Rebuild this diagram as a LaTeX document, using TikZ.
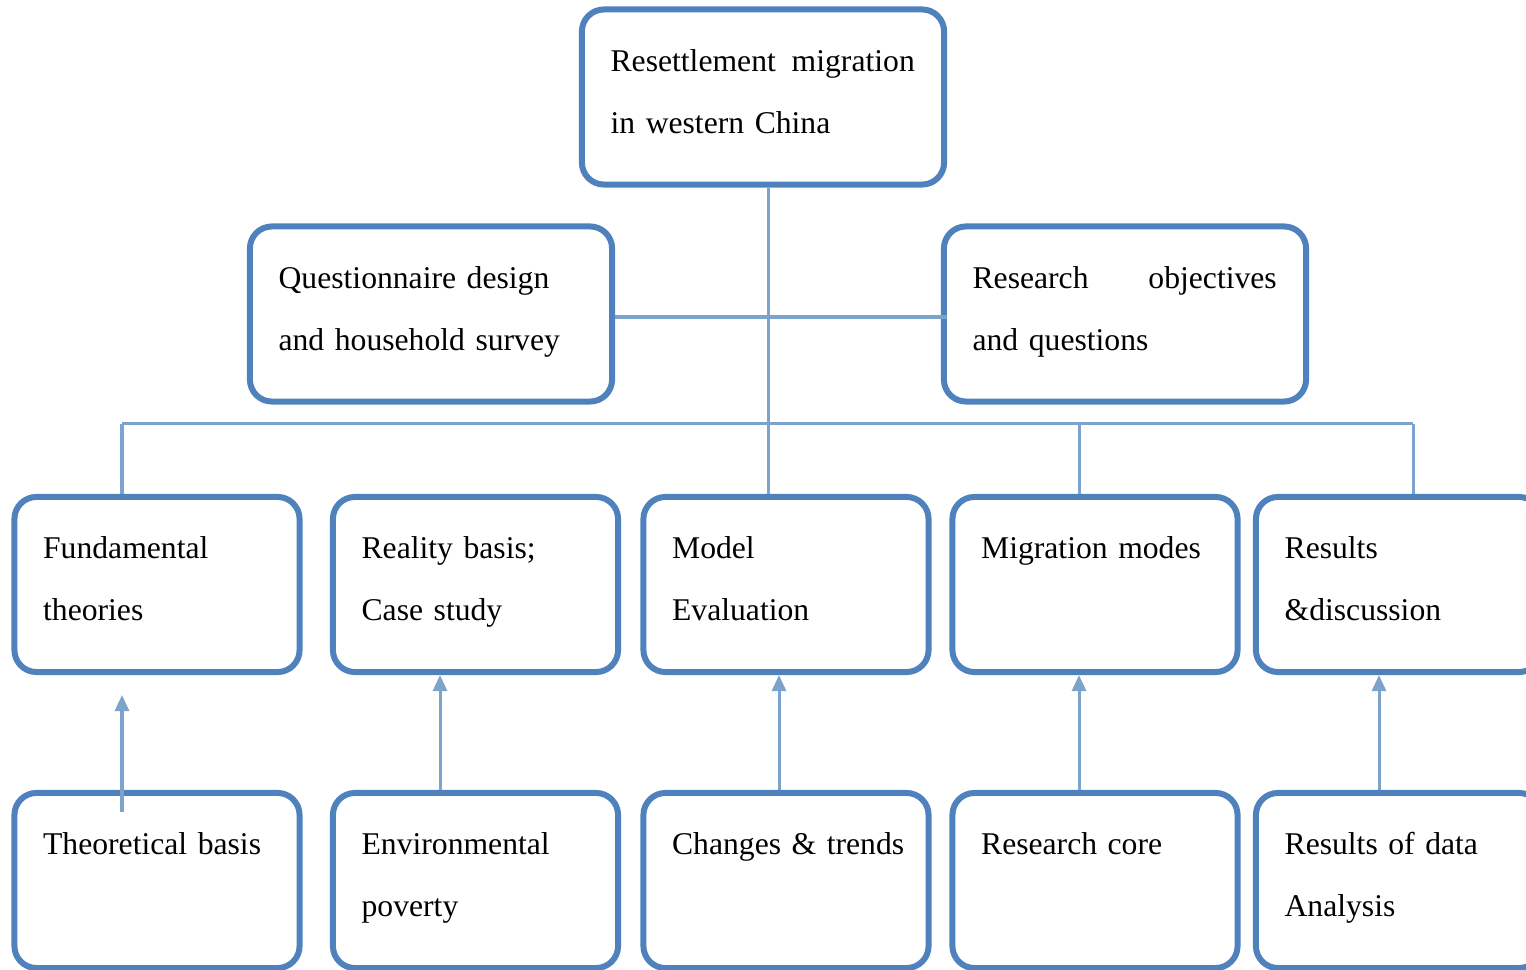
\documentclass[tikz,border=0pt]{standalone}
\usepackage{fontspec}
\setmainfont{Liberation Serif}
\usetikzlibrary{arrows.meta}
\usetikzlibrary{calc,positioning}
\definecolor{boxblue}{RGB}{79,129,189}
\definecolor{linkblue}{RGB}{124,163,204}

\begin{document}
\begin{tikzpicture}[x=0.01cm, y=-0.01cm,
    box/.style = {draw=boxblue, line width=0.06cm, rounded corners=0.22cm,
        inner sep=0, minimum height=1.75cm},
    wide/.style = {box, minimum width=3.62cm},
    narrow/.style = {box, minimum width=2.85cm},
    txt/.style = {inner sep=0, align=left, text width=3.04cm,
        font=\fontsize{9}{17.6}\selectfont},
    link/.style = {draw=linkblue, line width=0.03cm},
    arr/.style = {link, -{Triangle[width=0.14cm,length=0.16cm]}, fill=linkblue}]
    \useasboundingbox (0,0) rectangle (1526,970);
    \clip (0,0) rectangle (1526,970);

    % upper boxes
    \node [wide] (top) at (763,97) {};
    \node [wide] (quest) at (431,314) {};
    \node [wide] (obj) at (1125,314) {};

    % middle row
    \node [narrow] (fund) at (157,584.5) {};
    \node [narrow] (real) at (475.5,584.5) {};
    \node [narrow] (model) at (786,584.5) {};
    \node [narrow] (mig) at (1095,584.5) {};
    \node [narrow] (res) at (1398.5,584.5) {};

    % lower row
    \node [narrow] (theo) at (157,880.5) {};
    \node [narrow] (envp) at (475.5,880.5) {};
    \node [narrow] (chg) at (786,880.5) {};
    \node [narrow] (core) at (1095,880.5) {};
    \node [narrow] (data) at (1398.5,880.5) {};

    % texts
    \node [txt, below right=0.42cm and 0.31cm of top.north west] (topt) {Resettlement\hfill migration\\in western China};
    \node [txt, below right=0.42cm and 0.31cm of quest.north west] (questt) {Questionnaire design\\and household survey};
    \node [txt, below right=0.42cm and 0.31cm of obj.north west] (objt) {Research\hfill objectives\\and questions};
    \node [txt, below right=0.42cm and 0.31cm of fund.north west] (fundt) {Fundamental\\theories};
    \node [txt, below right=0.42cm and 0.31cm of real.north west] (realt) {Reality basis;\\Case study};
    \node [txt, below right=0.42cm and 0.31cm of model.north west] (modelt) {Model\\Evaluation};
    \node [txt, below right=0.42cm and 0.31cm of mig.north west] (migt) {Migration modes};
    \node [txt, below right=0.42cm and 0.31cm of res.north west] (rest) {Results\\\&discussion};
    \node [txt, below right=0.42cm and 0.31cm of theo.north west] (theot) {Theoretical basis};
    \node [txt, below right=0.42cm and 0.31cm of envp.north west] (envpt) {Environmental\\poverty};
    \node [txt, below right=0.42cm and 0.31cm of chg.north west] (chgt) {Changes \& trends};
    \node [txt, below right=0.42cm and 0.31cm of core.north west] (coret) {Research core};
    \node [txt, below right=0.42cm and 0.31cm of data.north west] (datat) {Results of data\\Analysis};

    % connectors
    \coordinate (spine) at (768,0);
    \coordinate (busl) at (122,424);
    \coordinate (busm) at (1079,424);
    \coordinate (busr) at (1413,424);
    \draw [link] (top.south -| spine) -- (model.north -| spine);
    \draw [link] ([yshift=-0.03cm]quest.east) -- ([xshift=0.06cm,yshift=-0.03cm]obj.west);
    \draw [link] (busl) -- (busr);
    \draw [link] (busl) -- (fund.north -| busl);
    \draw [link] (busm) -- (mig.north -| busm);
    \draw [link] (busr) -- (res.north -| busr);

    % arrows
    \coordinate (tb) at (122,812);
    \coordinate (ft) at (122,695);
    \coordinate (c2) at (440,0);
    \coordinate (c3) at (779,0);
    \coordinate (c4) at (1079,0);
    \coordinate (c5) at (1379,0);
    \draw [arr] (tb) -- (ft);
    \draw [arr] (envp.north -| c2) -- (real.south -| c2);
    \draw [arr] (chg.north -| c3) -- (model.south -| c3);
    \draw [arr] (core.north -| c4) -- (mig.south -| c4);
    \draw [arr] (data.north -| c5) -- (res.south -| c5);
\end{tikzpicture}
\end{document}
